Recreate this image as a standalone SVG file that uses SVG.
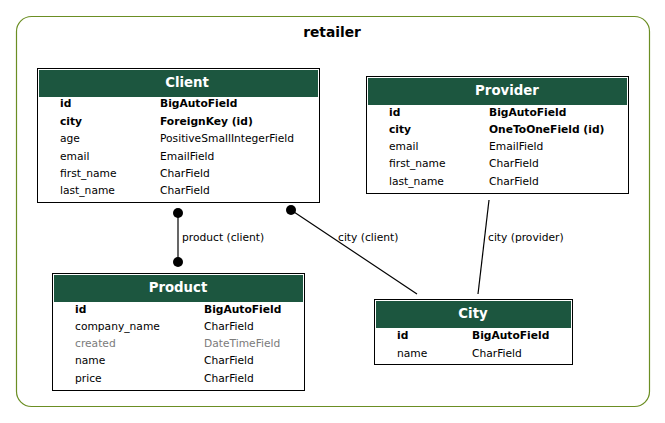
<svg xmlns="http://www.w3.org/2000/svg" width="665" height="423" viewBox="0 0 665 423">
<style>
text{font-family:"DejaVu Sans",sans-serif;font-size:10.7px;fill:#000}
.b{font-weight:bold}
.g{fill:#7b7b7b}
.h{font-weight:bold;font-size:13.3px;fill:#fff;text-anchor:middle}
.box{fill:#fff;stroke:#000;stroke-width:1}
.hd{fill:#1c563f}
.e{stroke:#000;stroke-width:1.2;fill:none}
</style>
<rect x="0" y="0" width="665" height="423" fill="#fff"/>
<g id="cluster-retailer">
<rect x="16.5" y="16.5" width="633" height="390" rx="15" fill="#fff" stroke="#6b8e23" stroke-width="1.2"/>
<text x="332" y="37" class="b" style="font-size:13.8px" text-anchor="middle">retailer</text>
</g>
<g id="connectors">
<line class="e" x1="178" y1="213" x2="178" y2="262"/>
<circle cx="178" cy="213" r="5"/>
<circle cx="178" cy="262" r="5"/>
<text x="182" y="241">product (client)</text>
<line class="e" x1="291" y1="210" x2="417" y2="294"/>
<circle cx="291" cy="210" r="5"/>
<text x="338" y="241">city (client)</text>
<line class="e" x1="489" y1="200" x2="478" y2="294"/>
<text x="488" y="241">city (provider)</text>
</g>
<g id="node-client">
<rect class="box" x="37.5" y="68.5" width="282" height="134"/>
<rect class="hd" x="39" y="70" width="279" height="27"/>
<text class="h" x="187" y="86.5">Client</text>
<text class="b" x="60" y="107">id</text><text class="b" x="160" y="107">BigAutoField</text>
<text class="b" x="60" y="125">city</text><text class="b" x="160" y="125">ForeignKey (id)</text>
<text x="60" y="142">age</text><text x="160" y="142">PositiveSmallIntegerField</text>
<text x="60" y="160">email</text><text x="160" y="160">EmailField</text>
<text x="60" y="177">first_name</text><text x="160" y="177">CharField</text>
<text x="60" y="194">last_name</text><text x="160" y="194">CharField</text>
</g>
<g id="node-provider">
<rect class="box" x="366.5" y="76.5" width="262" height="117"/>
<rect class="hd" x="368" y="78" width="259" height="27"/>
<text class="h" x="507" y="94.5">Provider</text>
<text class="b" x="389" y="116">id</text><text class="b" x="489" y="116">BigAutoField</text>
<text class="b" x="389" y="133">city</text><text class="b" x="489" y="133">OneToOneField (id)</text>
<text x="389" y="150">email</text><text x="489" y="150">EmailField</text>
<text x="389" y="167">first_name</text><text x="489" y="167">CharField</text>
<text x="389" y="185">last_name</text><text x="489" y="185">CharField</text>
</g>
<g id="node-product">
<rect class="box" x="52.5" y="273.5" width="252" height="117"/>
<rect class="hd" x="54" y="275" width="249" height="27"/>
<text class="h" x="178" y="291.5">Product</text>
<text class="b" x="75" y="313">id</text><text class="b" x="204" y="313">BigAutoField</text>
<text x="75" y="330">company_name</text><text x="204" y="330">CharField</text>
<text class="g" x="75" y="347">created</text><text class="g" x="204" y="347">DateTimeField</text>
<text x="75" y="364">name</text><text x="204" y="364">CharField</text>
<text x="75" y="382">price</text><text x="204" y="382">CharField</text>
</g>
<g id="node-city">
<rect class="box" x="374.5" y="299.5" width="198" height="65"/>
<rect class="hd" x="376" y="301" width="195" height="27"/>
<text class="h" x="473" y="317.5">City</text>
<text class="b" x="397" y="339">id</text><text class="b" x="472" y="339">BigAutoField</text>
<text x="397" y="357">name</text><text x="472" y="357">CharField</text>
</g>
</svg>
